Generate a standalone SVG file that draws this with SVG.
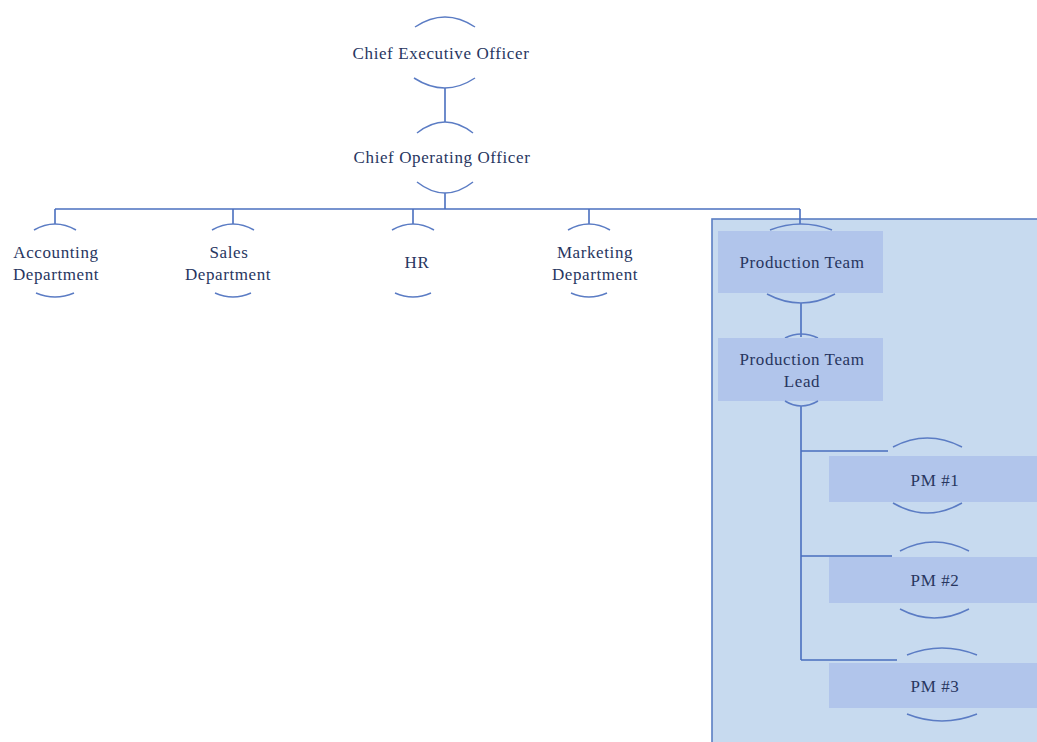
<svg xmlns="http://www.w3.org/2000/svg" width="1037" height="742" viewBox="0 0 1037 742">
<style>
.ln{fill:none;stroke:#4a6fbf;stroke-width:1.6}
.arc{fill:none;stroke:#5b7cc4;stroke-width:1.5}
.t{font-family:"Liberation Serif","Times New Roman",serif;font-size:17px;letter-spacing:0.6px;fill:#28365f;text-anchor:middle}
.box{fill:#b1c5eb}
</style>
<rect width="1037" height="742" fill="#ffffff"/>
<g id="production-container">
<rect x="712" y="219" width="330" height="530" fill="#c7daef" stroke="#5a7ec3" stroke-width="1.6"/>
</g>
<g id="connectors">
<path class="ln" d="M445 88V122"/>
<path class="ln" d="M445 193V209"/>
<path class="ln" d="M55 209H800"/>
<path class="ln" d="M55 209V224M233 209V224M413 209V224M589 209V224M800 209V224"/>
<path class="ln" d="M801 303V337"/>
<path class="ln" d="M801 406V660"/>
<path class="ln" d="M801 451H888M801 556H892M801 660H897"/>
</g>
<g id="ceo">
<path class="arc" d="M415 27Q445 7 475 27"/>
<text class="t" x="441" y="59">Chief Executive Officer</text>
<path class="arc" d="M414 78Q445 98 475 78"/>
</g>
<g id="coo">
<path class="arc" d="M417 133Q445 111 473 133"/>
<text class="t" x="442" y="163">Chief Operating Officer</text>
<path class="arc" d="M417 182Q445 204 473 182"/>
</g>
<g id="accounting">
<path class="arc" d="M34 230Q55 218 76 230"/>
<text class="t" x="56" y="258">Accounting</text>
<text class="t" x="56" y="280">Department</text>
<path class="arc" d="M36 293Q55 301 74 293"/>
</g>
<g id="sales">
<path class="arc" d="M212 230Q233 218 254 230"/>
<text class="t" x="229" y="258">Sales</text>
<text class="t" x="228" y="280">Department</text>
<path class="arc" d="M215 293Q233 301 251 293"/>
</g>
<g id="hr">
<path class="arc" d="M392 230Q413 218 434 230"/>
<text class="t" x="417" y="268">HR</text>
<path class="arc" d="M395 293Q413 301 431 293"/>
</g>
<g id="marketing">
<path class="arc" d="M568 230Q589 218 610 230"/>
<text class="t" x="595" y="258">Marketing</text>
<text class="t" x="595" y="280">Department</text>
<path class="arc" d="M571 293Q589 301 607 293"/>
</g>
<g id="production-team">
<path class="arc" d="M770 230Q801 218 832 230"/>
<rect class="box" x="718" y="231" width="165" height="62"/>
<text class="t" x="802" y="268">Production Team</text>
<path class="arc" d="M767 294Q801 312 835 294"/>
</g>
<g id="production-team-lead">
<path class="arc" d="M785 338Q801 330 818 338"/>
<rect class="box" x="718" y="338" width="165" height="63"/>
<text class="t" x="802" y="365">Production Team</text>
<text class="t" x="802" y="387">Lead</text>
<path class="arc" d="M785 401Q801 411 818 401"/>
</g>
<g id="pm1">
<path class="arc" d="M893 447Q927 429 962 447"/>
<rect class="box" x="829" y="456" width="210" height="46"/>
<text class="t" x="935" y="486">PM #1</text>
<path class="arc" d="M893 503Q927 523 962 503"/>
</g>
<g id="pm2">
<path class="arc" d="M900 551Q934 533 969 551"/>
<rect class="box" x="829" y="557" width="210" height="46"/>
<text class="t" x="935" y="586">PM #2</text>
<path class="arc" d="M900 609Q934 627 969 609"/>
</g>
<g id="pm3">
<path class="arc" d="M907 655Q942 641 977 655"/>
<rect class="box" x="829" y="663" width="210" height="45"/>
<text class="t" x="935" y="692">PM #3</text>
<path class="arc" d="M907 714Q942 728 977 714"/>
</g>
</svg>
